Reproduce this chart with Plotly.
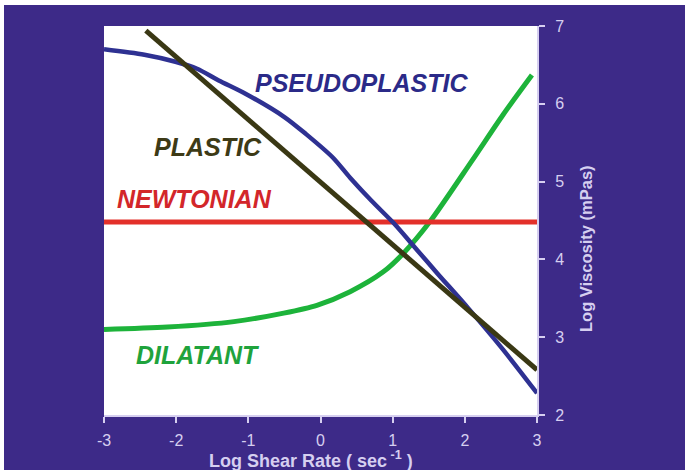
import plotly.graph_objects as go

# ---- data ----
newt_x = [-3.0, 3.0]
newt_y = [4.48, 4.48]

plastic_x = [-2.42, 3.0]
plastic_y = [6.94, 2.58]

pseudo_x = [-3.0, -2.44, -2.01, -1.71, -1.41, -1.04, -0.5, -0.2, 0.17, 0.41, 0.71, 1.01, 1.32, 1.62, 2.04, 2.53, 3.0]
pseudo_y = [6.70, 6.63, 6.54, 6.45, 6.30, 6.13, 5.83, 5.61, 5.31, 5.05, 4.75, 4.47, 4.14, 3.82, 3.38, 2.84, 2.28]

dil_x = [-3.0, -2.12, -1.2, -0.51, -0.05, 0.41, 0.87, 1.15, 1.52, 2.1, 2.53, 2.93]
dil_y = [3.10, 3.13, 3.20, 3.31, 3.41, 3.585, 3.84, 4.08, 4.49, 5.27, 5.86, 6.37]

labels = ["PSEUDOPLASTIC", "PLASTIC", "NEWTONIAN", "DILATANT"]
label_x = [0.564, -1.56, -1.75, -1.70]
label_y = [6.27, 5.45, 4.78, 2.77]

x_ticks = [-3, -2, -1, 0, 1, 2, 3]
y_ticks = [2, 3, 4, 5, 6, 7]

x_title = "<b>Log Shear Rate ( sec<sup> -1</sup> )</b>"
y_title = "<b>Log Viscosity (mPas)</b>"

# ---- style ----
PURPLE = "#3d2a88"
LAV = "#d6cff0"
C_PSEUDO = "#2e3192"
C_PLASTIC = "#3a3814"
C_NEWT = "#e3302a"
C_DIL = "#1db33a"
label_colors = ["#2b2a88", "#3d3a16", "#d3262a", "#1fa33c"]
FONT = "Liberation Sans, Arial"

fig = go.Figure()
fig.add_trace(go.Scatter(x=dil_x, y=dil_y, mode="lines", line=dict(color=C_DIL, width=5, shape="spline", smoothing=0.8), cliponaxis=False))
fig.add_trace(go.Scatter(x=newt_x, y=newt_y, mode="lines", line=dict(color=C_NEWT, width=5), cliponaxis=False))
fig.add_trace(go.Scatter(x=pseudo_x, y=pseudo_y, mode="lines", line=dict(color=C_PSEUDO, width=4.5, shape="spline", smoothing=0.8), cliponaxis=False))
fig.add_trace(go.Scatter(x=plastic_x, y=plastic_y, mode="lines", line=dict(color=C_PLASTIC, width=5), cliponaxis=False))

for t, x, y, c in zip(labels, label_x, label_y, label_colors):
    fig.add_annotation(x=x, y=y, text="<b><i>" + t + "</i></b>", showarrow=False,
                       font=dict(family=FONT, size=25, color=c),
                       xanchor="center", yanchor="middle")

W, H = 685, 470
ml, mr, mt, mb = 104, 148, 26, 55
pw, ph = W - ml - mr, H - mt - mb

def px2paper_x(px):
    return (px - ml) / pw

def py2paper_y(py):
    return (H - mb - py) / ph

# axis titles as annotations (placed where the reference has them)
fig.add_annotation(xref="paper", yref="paper", x=px2paper_x(311), y=py2paper_y(460),
                   text=x_title, showarrow=False, xanchor="center", yanchor="middle",
                   font=dict(family=FONT, size=18, color=LAV))
fig.add_annotation(xref="paper", yref="paper", x=px2paper_x(586), y=py2paper_y(249),
                   text=y_title, showarrow=False, textangle=-90, xanchor="center", yanchor="middle",
                   font=dict(family=FONT, size=16.5, color=LAV))

shapes = [
    # purple background (thin white border at top/left)
    dict(type="rect", xref="paper", yref="paper", layer="below",
         x0=px2paper_x(4), x1=px2paper_x(W + 2), y0=py2paper_y(H + 2), y1=py2paper_y(5),
         fillcolor=PURPLE, line=dict(width=0)),
    # white plot area
    dict(type="rect", xref="paper", yref="paper", layer="below",
         x0=0, x1=1, y0=0, y1=1, fillcolor="white", line=dict(width=0)),
]

fig.update_layout(
    width=W, height=H,
    margin=dict(l=ml, r=mr, t=mt, b=mb),
    paper_bgcolor="white",
    plot_bgcolor="rgba(0,0,0,0)",
    showlegend=False,
    shapes=shapes,
    font=dict(family=FONT, color=LAV),
)
fig.update_xaxes(range=[-3, 3], tickvals=x_ticks, ticktext=[str(v) for v in x_ticks],
                 showgrid=False, zeroline=False, showline=True, linecolor=LAV, linewidth=2,
                 ticks="outside", ticklen=6, tickcolor=LAV, tickwidth=1.5, ticklabelstandoff=4,
                 tickfont=dict(size=16, color=LAV))
fig.update_yaxes(range=[2, 7], side="right", tickvals=y_ticks, ticktext=[str(v) for v in y_ticks],
                 showgrid=False, zeroline=False, showline=True, linecolor=LAV, linewidth=2,
                 ticks="outside", ticklen=6, tickcolor=LAV, tickwidth=1.5, ticklabelstandoff=7,
                 tickfont=dict(size=16, color=LAV))

fig.write_html("out.html", config={"displayModeBar": False},
               post_script="document.body.style.margin='0px';document.body.style.overflow='hidden';")
